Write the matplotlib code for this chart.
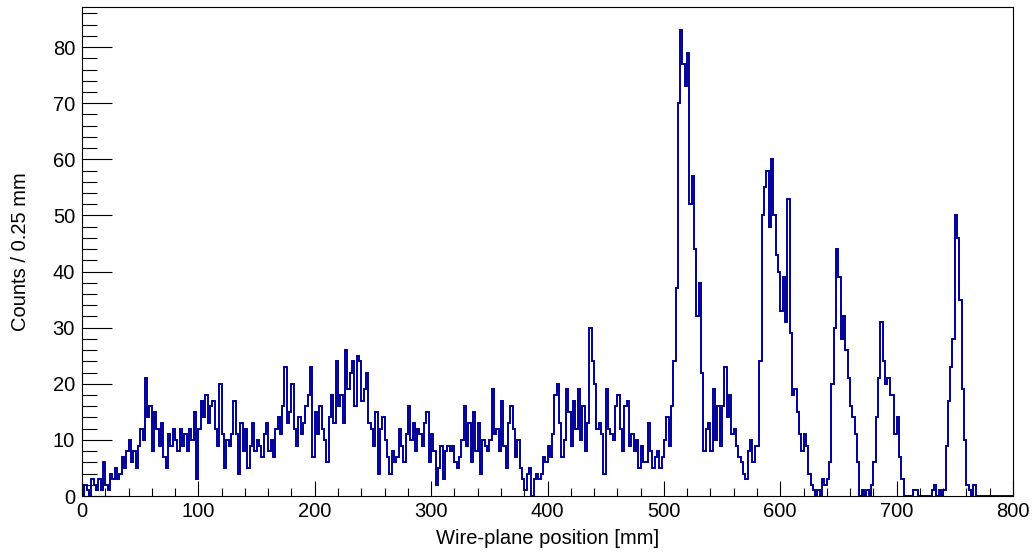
import numpy as np
import matplotlib
matplotlib.use("Agg")
import matplotlib.pyplot as plt

plt.rcParams['font.family'] = ['Liberation Sans', 'DejaVu Sans']

# Histogram binning (mm)
x_min, x_max = 0.0, 800.0
bin_width = 2.0

# Counts per bin, 20 mm per row
counts_000_100 = [0, 2, 1, 0, 3, 2, 1, 3, 1, 6,
                  2, 1, 4, 3, 5, 3, 4, 7, 5, 8,
                  10, 6, 8, 5, 9, 12, 10, 21, 14, 16,
                  8, 15, 12, 9, 13, 7, 5, 11, 9, 12,
                  10, 8, 12, 9, 11, 8, 12, 10, 15, 3]
counts_100_200 = [12, 17, 14, 18, 13, 16, 17, 12, 9, 20,
                  11, 5, 10, 9, 11, 17, 11, 4, 13, 8,
                  12, 5, 9, 13, 8, 10, 9, 7, 11, 13,
                  8, 10, 7, 12, 14, 11, 16, 23, 13, 15,
                  20, 12, 9, 14, 11, 13, 16, 18, 23, 7]
counts_200_300 = [15, 11, 16, 12, 10, 6, 14, 18, 13, 24,
                  16, 18, 13, 26, 19, 22, 24, 16, 25, 24,
                  17, 19, 22, 13, 12, 9, 15, 4, 12, 14,
                  10, 7, 4, 8, 6, 7, 12, 9, 6, 11,
                  16, 10, 13, 8, 12, 11, 9, 13, 15, 6]
counts_300_400 = [11, 8, 2, 5, 9, 3, 8, 9, 8, 9,
                  6, 5, 7, 10, 16, 9, 13, 6, 15, 8,
                  13, 4, 10, 9, 8, 10, 19, 11, 12, 8,
                  17, 9, 5, 13, 16, 12, 7, 10, 5, 3,
                  1, 4, 5, 0, 3, 4, 3, 4, 7, 6]
counts_400_500 = [9, 7, 11, 18, 20, 13, 7, 10, 19, 15,
                  9, 17, 12, 19, 10, 16, 8, 13, 30, 24,
                  20, 12, 13, 11, 4, 19, 12, 11, 10, 16,
                  18, 12, 8, 16, 17, 9, 11, 8, 10, 5,
                  9, 6, 6, 13, 8, 5, 7, 8, 5, 7]
counts_500_600 = [10, 14, 9, 16, 24, 37, 70, 83, 77, 73,
                  79, 52, 57, 44, 32, 38, 22, 8, 12, 13,
                  8, 19, 10, 16, 9, 16, 23, 14, 18, 11,
                  12, 9, 7, 6, 4, 3, 8, 10, 6, 9,
                  9, 24, 50, 55, 58, 48, 60, 50, 43, 40]
counts_600_700 = [33, 39, 31, 53, 29, 18, 19, 15, 11, 8,
                  11, 9, 4, 2, 1, 0, 1, 0, 3, 2,
                  3, 6, 20, 30, 44, 39, 28, 32, 26, 21,
                  16, 14, 11, 6, 0, 1, 0, 1, 0, 2,
                  6, 14, 21, 31, 24, 20, 21, 18, 18, 11]
counts_700_800 = [14, 7, 3, 0, 0, 0, 0, 1, 1, 0,
                  0, 0, 0, 0, 0, 1, 2, 0, 1, 0,
                  1, 9, 17, 23, 28, 50, 46, 35, 19, 10,
                  2, 1, 0, 2, 0, 0, 0, 0, 0, 0,
                  0, 0, 0, 0, 0, 0, 0, 0, 0, 0]

counts = np.array(counts_000_100 + counts_100_200 + counts_200_300 +
                  counts_300_400 + counts_400_500 + counts_500_600 +
                  counts_600_700 + counts_700_800, dtype=float)
edges = np.arange(x_min, x_max + bin_width / 2, bin_width)

fig = plt.figure(figsize=(10.35, 5.54), dpi=100)
ax = fig.add_axes([82 / 1035, 1 - 496 / 554, (1013 - 82) / 1035, (496 - 7) / 554])

ax.stairs(counts, edges, color='#000099', linewidth=1.4, baseline=None)

ax.set_xlim(x_min, x_max)
ax.set_ylim(0, 1.05 * counts.max())

ax.set_xticks(np.arange(0, 801, 100))
ax.set_xticks(np.arange(0, 801, 20), minor=True)
ax.set_yticks(np.arange(0, 81, 10))
ax.set_yticks(np.arange(0, 87, 2), minor=True)

ax.tick_params(axis='both', which='both', direction='in', width=0.8,
               labelsize=14.5, top=False, right=False)
ax.tick_params(axis='x', which='major', length=11, pad=4)
ax.tick_params(axis='x', which='minor', length=5.5)
ax.tick_params(axis='y', which='major', length=21.5, pad=5)
ax.tick_params(axis='y', which='minor', length=11)

for s in ax.spines.values():
    s.set_linewidth(0.8)

ax.set_xlabel('Wire-plane position [mm]', fontsize=14.5, labelpad=6)
ax.set_ylabel('Counts / 0.25 mm', fontsize=14.5, labelpad=16)

fig.savefig('out.png', dpi=100)
